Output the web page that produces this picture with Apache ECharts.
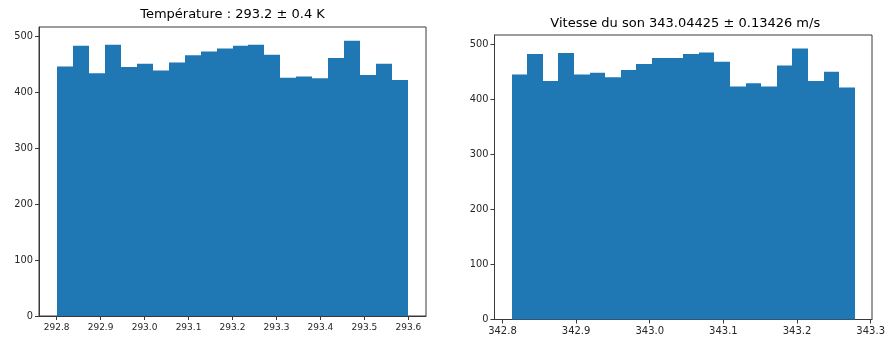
<!DOCTYPE html>
<html>
<head>
<meta charset="utf-8">
<style>
  html, body { margin: 0; padding: 0; background: #fff; }
  #chart { width: 888px; height: 337px; }
</style>
<script src="https://cdn.jsdelivr.net/npm/echarts@6/dist/echarts.min.js"></script>
</head>
<body>
<div id="chart"></div>
<script>
// Histogram counts (22 equal-width bins each)
const tempCounts  = [446, 483, 434, 485, 445, 451, 439, 453, 466, 473, 478, 483, 485, 467, 426, 428, 425, 461, 492, 431, 451, 422];
const speedCounts = [446, 483, 434, 485, 446, 449, 441, 454, 465, 476, 476, 483, 486, 469, 424, 430, 424, 462, 493, 434, 451, 422];

// Data range covered by the bins
const tempRange  = [292.8, 293.6];
const speedRange = [342.8125, 343.2785];

// Axis tick positions
const tempTicks  = [292.8, 292.9, 293.0, 293.1, 293.2, 293.3, 293.4, 293.5, 293.6];
const speedTicks = [342.8, 342.9, 343.0, 343.1, 343.2, 343.3];
const countTicks = [0, 100, 200, 300, 400, 500];

const titles = ['Température : 293.2 ± 0.4 K', 'Vitesse du son 343.04425 ± 0.13426 m/s'];

// Turn counts + range into [start, end, count] rows
function bins(range, counts) {
  const w = (range[1] - range[0]) / counts.length;
  return counts.map((c, i) => [range[0] + i * w, range[0] + (i + 1) * w, c]);
}

// Axis limits padded by 5% like the plotting default
function padded(lo, hi) {
  const m = (hi - lo) * 0.05;
  return [lo - m, hi + m];
}

const FONT = 'DejaVu Sans';
const BAR = '#1f77b4';
const SPINE = '#3a3a3a';

const grids = [
  { left: 39, top: 27, width: 387, height: 289 },
  { left: 494.5, top: 35, width: 381.5, height: 284.5 }
];

function xAxisFor(idx, range, ticks, fontSize) {
  const lim = padded(range[0], range[1]);
  return {
    type: 'value', gridIndex: idx, min: lim[0], max: lim[1],
    axisLine: { show: true, onZero: false, lineStyle: { color: SPINE, width: 1 } },
    axisTick: { show: true, inside: false, length: 4, customValues: ticks, lineStyle: { color: SPINE } },
    axisLabel: { customValues: ticks, formatter: v => v.toFixed(1), color: '#262626',
                 fontFamily: FONT, fontSize: fontSize, margin: 7 },
    splitLine: { show: false }
  };
}

function yAxisFor(idx, counts) {
  const maxC = Math.max.apply(null, counts);
  return {
    type: 'value', gridIndex: idx, min: 0, max: maxC * 1.05,
    axisLine: { show: true, lineStyle: { color: SPINE, width: 1 } },
    axisTick: { show: true, inside: false, length: 4, customValues: countTicks, lineStyle: { color: SPINE } },
    axisLabel: { customValues: countTicks, color: '#262626', fontFamily: FONT, fontSize: 9.8, margin: 6 },
    splitLine: { show: false }
  };
}

function histSeries(idx, data) {
  return {
    type: 'custom', xAxisIndex: idx, yAxisIndex: idx, data: data,
    encode: { x: [0, 1], y: 2 },
    renderItem: function (params, api) {
      const p0 = api.coord([api.value(0), api.value(2)]);
      const p1 = api.coord([api.value(1), 0]);
      // snap bin edges to whole pixels so neighbouring bars join without seams
      const x0 = Math.round(p0[0]);
      const x1 = Math.round(p1[0]);
      return {
        type: 'rect',
        shape: { x: x0, y: p0[1], width: x1 - x0, height: p1[1] - p0[1] },
        style: { fill: BAR }
      };
    }
  };
}

const chart = echarts.init(document.getElementById('chart'), null, { renderer: 'canvas' });
chart.setOption({
  animation: false,
  backgroundColor: '#fff',
  grid: grids.map(g => Object.assign({ show: true, borderColor: SPINE, borderWidth: 1, backgroundColor: 'transparent' }, g)),
  xAxis: [
    xAxisFor(0, tempRange, tempTicks, 9),
    xAxisFor(1, speedRange, speedTicks, 10)
  ],
  yAxis: [yAxisFor(0, tempCounts), yAxisFor(1, speedCounts)],
  series: [
    histSeries(0, bins(tempRange, tempCounts)),
    histSeries(1, bins(speedRange, speedCounts))
  ],
  graphic: [
    { type: 'text', x: grids[0].left + grids[0].width / 2, y: 15,
      style: { text: titles[0], fontFamily: FONT, fontSize: 13, fill: '#000', align: 'center', verticalAlign: 'middle' } },
    { type: 'text', x: grids[1].left + grids[1].width / 2, y: 23.5,
      style: { text: titles[1], fontFamily: FONT, fontSize: 13, fill: '#000', align: 'center', verticalAlign: 'middle' } }
  ]
});
</script>
</body>
</html>
